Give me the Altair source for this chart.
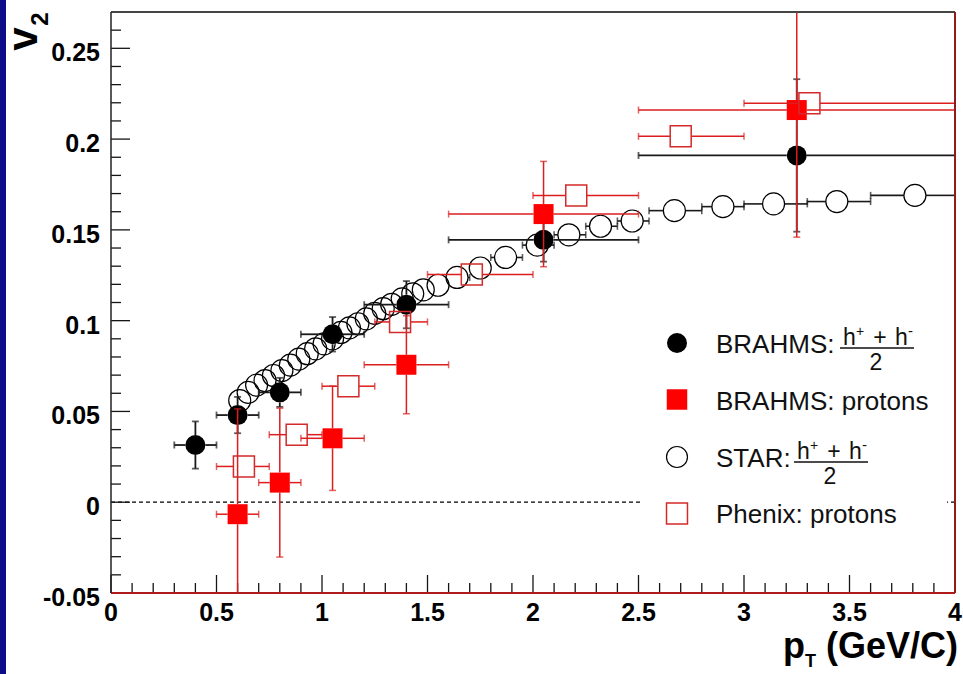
import altair as alt
import pandas as pd

# ---------------- measurements ----------------
# BRAHMS charged hadrons (h+ + h-)/2
brahms_h_pt = [0.40, 0.60, 0.80, 1.05, 1.40, 2.05, 3.25]
brahms_h_v2 = [0.0315, 0.048, 0.0605, 0.0925, 0.1088, 0.1445, 0.191]
brahms_h_ptlo = [0.30, 0.50, 0.70, 0.90, 1.20, 1.60, 2.50]
brahms_h_pthi = [0.50, 0.70, 0.90, 1.20, 1.60, 2.50, 4.00]
brahms_h_err = [0.013, 0.010, 0.008, 0.0095, 0.013, 0.012, 0.042]

# BRAHMS protons
brahms_p_pt = [0.60, 0.80, 1.05, 1.40, 2.05, 3.25]
brahms_p_v2 = [-0.0066, 0.0108, 0.0352, 0.0757, 0.1587, 0.216]
brahms_p_ptlo = [0.50, 0.70, 0.90, 1.20, 1.60, 2.50]
brahms_p_pthi = [0.70, 0.90, 1.20, 1.60, 2.50, 4.00]
brahms_p_err = [0.058, 0.041, 0.0287, 0.027, 0.029, 0.070]

# STAR charged hadrons (h+ + h-)/2
star_pt = [0.61, 0.65, 0.69, 0.73, 0.77, 0.81, 0.85, 0.89, 0.93, 0.97, 1.01, 1.05,
           1.09, 1.13, 1.17, 1.21, 1.25, 1.29, 1.33, 1.38, 1.43, 1.48, 1.55, 1.64,
           1.75, 1.87, 2.02, 2.17, 2.32, 2.47, 2.67, 2.90, 3.14, 3.44, 3.81]
star_v2 = [0.056, 0.0605, 0.0645, 0.067, 0.0698, 0.0725, 0.0755, 0.0788, 0.0818,
           0.0845, 0.0872, 0.090, 0.0935, 0.096, 0.0983, 0.101, 0.104, 0.1066,
           0.109, 0.112, 0.1148, 0.117, 0.1195, 0.1238, 0.129, 0.1348, 0.1416,
           0.1473, 0.152, 0.1549, 0.1606, 0.1628, 0.1643, 0.1656, 0.169]
star_ptlo = [0.59, 0.63, 0.67, 0.71, 0.75, 0.79, 0.83, 0.87, 0.91, 0.95, 0.99, 1.03,
             1.07, 1.11, 1.15, 1.19, 1.23, 1.27, 1.31, 1.36, 1.41, 1.46, 1.51, 1.60,
             1.70, 1.80, 1.95, 2.10, 2.25, 2.40, 2.55, 2.80, 3.00, 3.30, 3.60]
star_pthi = [0.63, 0.67, 0.71, 0.75, 0.79, 0.83, 0.87, 0.91, 0.95, 0.99, 1.03, 1.07,
             1.11, 1.15, 1.19, 1.23, 1.27, 1.31, 1.35, 1.40, 1.45, 1.50, 1.60, 1.70,
             1.80, 1.95, 2.10, 2.25, 2.40, 2.55, 2.80, 3.00, 3.30, 3.60, 4.00]

# PHENIX protons
phenix_pt = [0.63, 0.88, 1.125, 1.37, 1.71, 2.205, 2.70, 3.31]
phenix_v2 = [0.0197, 0.0372, 0.0639, 0.0993, 0.1254, 0.169, 0.2015, 0.2197]
phenix_ptlo = [0.50, 0.75, 1.00, 1.25, 1.50, 2.00, 2.50, 3.00]
phenix_pthi = [0.75, 1.00, 1.25, 1.50, 2.00, 2.50, 3.00, 4.00]

# axis ticks and labels
x_major = [0, 0.5, 1, 1.5, 2, 2.5, 3, 3.5, 4]
x_labels = ["0", "0.5", "1", "1.5", "2", "2.5", "3", "3.5", "4"]
y_major = [-0.05, 0, 0.05, 0.1, 0.15, 0.2, 0.25]
y_labels = ["-0.05", "0", "0.05", "0.1", "0.15", "0.2", "0.25"]
x_minor = [round(i * 0.1, 2) for i in range(41) if i % 5]
y_minor = [round(-0.05 + i * 0.01, 2) for i in range(33) if i % 5]

# ---------------- geometry / style ----------------
PLOT_W, PLOT_H = 844, 581
PT_RANGE = [0, 4]
V2_RANGE = [-0.05, 0.27]
PX_PER_PT = PLOT_W / (PT_RANGE[1] - PT_RANGE[0])
PX_PER_V2 = PLOT_H / (V2_RANGE[1] - V2_RANGE[0])

FONT = "Liberation Sans"
RED = "#ff0000"
RED_BAR = "#dc1e1e"
RED_OPEN = "#d42a2a"
BLACK_BAR = "#1a1a1a"
MARKER = 20      # marker side / diameter in px
CAP = 7          # error-bar end cap length in px

x_scale = alt.Scale(domain=PT_RANGE, nice=False, zero=False)
y_scale = alt.Scale(domain=V2_RANGE, nice=False, zero=False)
ONE = pd.DataFrame({"k": [0]})


def X(field):
    return alt.X(field, type="quantitative", scale=x_scale, axis=None)


def Y(field):
    return alt.Y(field, type="quantitative", scale=y_scale, axis=None)


def bar_segments(centre, other, lo, hi, half_px, px_per_unit):
    """Parts of an error bar that lie outside the marker (as ROOT draws them)."""
    hw = half_px / px_per_unit
    min_len = 1.0 / px_per_unit
    rows = []
    for c, o, a, b in zip(centre, other, lo, hi):
        if (c - hw) - a > min_len:
            rows.append({"a": a, "b": c - hw, "o": o, "cap": a})
        if b - (c + hw) > min_len:
            rows.append({"a": c + hw, "b": b, "o": o, "cap": b})
    return pd.DataFrame(rows, columns=["a", "b", "o", "cap"])


def error_layers(pt, v2, ptlo, pthi, err, color, width, half_px=MARKER / 2):
    layers = []
    h = bar_segments(pt, v2, ptlo, pthi, half_px, PX_PER_PT)
    if len(h):
        layers.append(alt.Chart(h).mark_rule(color=color, strokeWidth=width, clip=True)
                      .encode(x=X("a"), x2="b", y=Y("o")))
        layers.append(alt.Chart(h).mark_tick(orient="vertical", color=color, size=CAP,
                                             thickness=width, clip=True)
                      .encode(x=X("cap"), y=Y("o")))
    if err is not None:
        vlo = [v - e for v, e in zip(v2, err)]
        vhi = [v + e for v, e in zip(v2, err)]
        v = bar_segments(v2, pt, vlo, vhi, half_px, PX_PER_V2)
        if len(v):
            layers.append(alt.Chart(v).mark_rule(color=color, strokeWidth=width, clip=True)
                          .encode(y=Y("a"), y2="b", x=X("o")))
            layers.append(alt.Chart(v).mark_tick(orient="horizontal", color=color, size=CAP,
                                                 thickness=width, clip=True)
                          .encode(y=Y("cap"), x=X("o")))
    return layers


def text(s, x, y, size, weight="normal", align="left", baseline="alphabetic",
         angle=0, color="#111111"):
    return alt.Chart(ONE).mark_text(
        text=s, font=FONT, fontSize=size, fontWeight=weight, align=align,
        baseline=baseline, angle=angle, color=color,
    ).encode(x=alt.value(x), y=alt.value(y))


def hline(x1, x2, y, color, width):
    return alt.Chart(ONE).mark_rule(color=color, strokeWidth=width).encode(
        x=alt.value(x1), x2=alt.value(x2), y=alt.value(y))


def vline(x, y1, y2, color, width):
    return alt.Chart(ONE).mark_rule(color=color, strokeWidth=width).encode(
        x=alt.value(x), y=alt.value(y1), y2=alt.value(y2))


# ---------------- axes (ROOT style: ticks point inwards) ----------------
tick_color = "#151515"
x_major_ticks = alt.Chart(pd.DataFrame({"v": x_major})).mark_rule(
    color=tick_color, strokeWidth=1.3).encode(
    x=X("v"), y=alt.value(PLOT_H), y2=alt.value(PLOT_H - 18))
x_minor_ticks = alt.Chart(pd.DataFrame({"v": x_minor})).mark_rule(
    color=tick_color, strokeWidth=1.3).encode(
    x=X("v"), y=alt.value(PLOT_H), y2=alt.value(PLOT_H - 10))
y_major_ticks = alt.Chart(pd.DataFrame({"v": y_major})).mark_rule(
    color=tick_color, strokeWidth=1.3).encode(
    y=Y("v"), x=alt.value(0), x2=alt.value(19))
y_minor_ticks = alt.Chart(pd.DataFrame({"v": y_minor})).mark_rule(
    color=tick_color, strokeWidth=1.3).encode(
    y=Y("v"), x=alt.value(0), x2=alt.value(10))

x_tick_text = alt.Chart(pd.DataFrame({"v": x_major, "label": x_labels})).mark_text(
    font=FONT, fontSize=25, fontWeight="bold", color="black", align="center",
    baseline="top").encode(x=X("v"), y=alt.value(PLOT_H + 8), text="label:N")
y_tick_text = alt.Chart(pd.DataFrame({"v": y_major, "label": y_labels})).mark_text(
    font=FONT, fontSize=25, fontWeight="bold", color="black", align="right",
    baseline="middle", dy=5).encode(y=Y("v"), x=alt.value(-11), text="label:N")

# v2 = 0 reference line
zero_line = alt.Chart(pd.DataFrame({"v": [0.0]})).mark_rule(
    color="black", strokeWidth=1.3, strokeDash=[4, 3]).encode(
    y=Y("v"), x=alt.value(0), x2=alt.value(PLOT_W))

# slide border strip on the left
strip = alt.Chart(ONE).mark_rect(color="#0c0c88").encode(
    x=alt.value(-111), x2=alt.value(-105), y=alt.value(-12), y2=alt.value(PLOT_H + 81))

# legend background (hides the dashed line behind it)
legend_box = alt.Chart(ONE).mark_rect(color="white").encode(
    x=alt.value(529), x2=alt.value(836), y=alt.value(300), y2=alt.value(530))

# frame
frame = [
    hline(0, PLOT_W, 0, "#454545", 2),
    vline(PLOT_W, 0, PLOT_H, "#8e1c1c", 2),
    hline(0, PLOT_W, PLOT_H, "#b01a1a", 2),
    vline(0, 0, PLOT_H, "#222222", 1.5),
]

# ---------------- data layers ----------------
star_df = pd.DataFrame({"pt": star_pt, "v2": star_v2})
bh_df = pd.DataFrame({"pt": brahms_h_pt, "v2": brahms_h_v2})
bp_df = pd.DataFrame({"pt": brahms_p_pt, "v2": brahms_p_v2})
ph_df = pd.DataFrame({"pt": phenix_pt, "v2": phenix_v2})

STAR_D = 22
star_pts = alt.Chart(star_df).mark_point(
    shape="circle", filled=False, size=STAR_D * STAR_D, color="black",
    strokeWidth=1.2, opacity=1, clip=True).encode(x=X("pt"), y=Y("v2"))
bh_pts = alt.Chart(bh_df).mark_point(
    shape="circle", filled=True, size=MARKER * MARKER, color="black", opacity=1,
    clip=True).encode(x=X("pt"), y=Y("v2"))
bp_pts = alt.Chart(bp_df).mark_point(
    shape="square", filled=True, size=MARKER * MARKER, color=RED, opacity=1,
    clip=True).encode(x=X("pt"), y=Y("v2"))
ph_pts = alt.Chart(ph_df).mark_point(
    shape="square", filled=False, size=(MARKER + 1) ** 2, color=RED_OPEN,
    strokeWidth=1.5, opacity=1, clip=True).encode(x=X("pt"), y=Y("v2"))

data_layers = (
    error_layers(star_pt, star_v2, star_ptlo, star_pthi, None, BLACK_BAR, 1.6,
                 half_px=STAR_D / 2)
    + [star_pts]
    + error_layers(brahms_h_pt, brahms_h_v2, brahms_h_ptlo, brahms_h_pthi,
                   brahms_h_err, BLACK_BAR, 1.8)
    + [bh_pts]
    + error_layers(brahms_p_pt, brahms_p_v2, brahms_p_ptlo, brahms_p_pthi,
                   brahms_p_err, RED_BAR, 1.5)
    + [bp_pts]
    + error_layers(phenix_pt, phenix_v2, phenix_ptlo, phenix_pthi, None, RED_BAR, 1.5,
                   half_px=(MARKER + 1) / 2)
    + [ph_pts]
)

# ---------------- legend ----------------
LX, TX = 566, 605
rows_y = [331, 387.5, 445, 501.5]
text_y = [341, 397.5, 454.5, 510.5]


def legend_marker(y, shape, filled, color, size, stroke_width=1.2):
    return alt.Chart(ONE).mark_point(
        shape=shape, filled=filled, color=color, size=size, opacity=1,
        strokeWidth=stroke_width).encode(x=alt.value(LX), y=alt.value(y))


def fraction(x0, base_y):
    """(h+ + h-) / 2 with the numerator starting at x0 and the bar at base_y."""
    num_y = base_y - 3
    return [
        text("h", x0, num_y, 23),
        text("+", x0 + 13, num_y - 9, 14),
        text("+", x0 + 37, num_y, 23, align="center"),
        text("h", x0 + 52, num_y, 23),
        text("-", x0 + 65, num_y - 9, 15),
        hline(x0 - 3, x0 + 71, base_y, "#111111", 1.5),
        text("2", x0 + 33, base_y + 22, 23, align="center"),
    ]


legend = [
    legend_marker(rows_y[0], "circle", True, "black", 400),
    text("BRAHMS:", TX, text_y[0], 26),
    *fraction(732, 336),
    legend_marker(rows_y[1], "square", True, RED, 420),
    text("BRAHMS: protons", TX, text_y[1], 26),
    legend_marker(rows_y[2], "circle", False, "black", 440),
    text("STAR:", TX, text_y[2], 26),
    *fraction(686, 450),
    legend_marker(rows_y[3], "square", False, RED_OPEN, 440, 1.5),
    text("Phenix: protons", TX, text_y[3], 26),
]

# ---------------- axis titles ----------------
titles = [
    text("v", -74, 27, 42, weight="bold", align="center", angle=270, color="black"),
    text("2", -63, 7, 24, weight="bold", align="center", angle=270, color="black"),
    text("p", 672, 646, 36, weight="bold", color="black"),
    text("T", 694, 655, 18, weight="bold", color="black"),
    text("(GeV/C)", 847, 646, 36, weight="bold", align="right", color="black"),
]

chart = alt.layer(
    strip, zero_line, legend_box,
    x_major_ticks, x_minor_ticks, y_major_ticks, y_minor_ticks,
    x_tick_text, y_tick_text,
    *data_layers, *frame, *legend, *titles,
).properties(
    width=PLOT_W, height=PLOT_H,
    padding={"left": 111, "top": 12, "right": 8, "bottom": 81},
    autosize=alt.AutoSizeParams(type="none"),
    background="white",
).configure_view(stroke=None)

chart.save("out.html", embed_options={"renderer": "svg", "actions": False})
